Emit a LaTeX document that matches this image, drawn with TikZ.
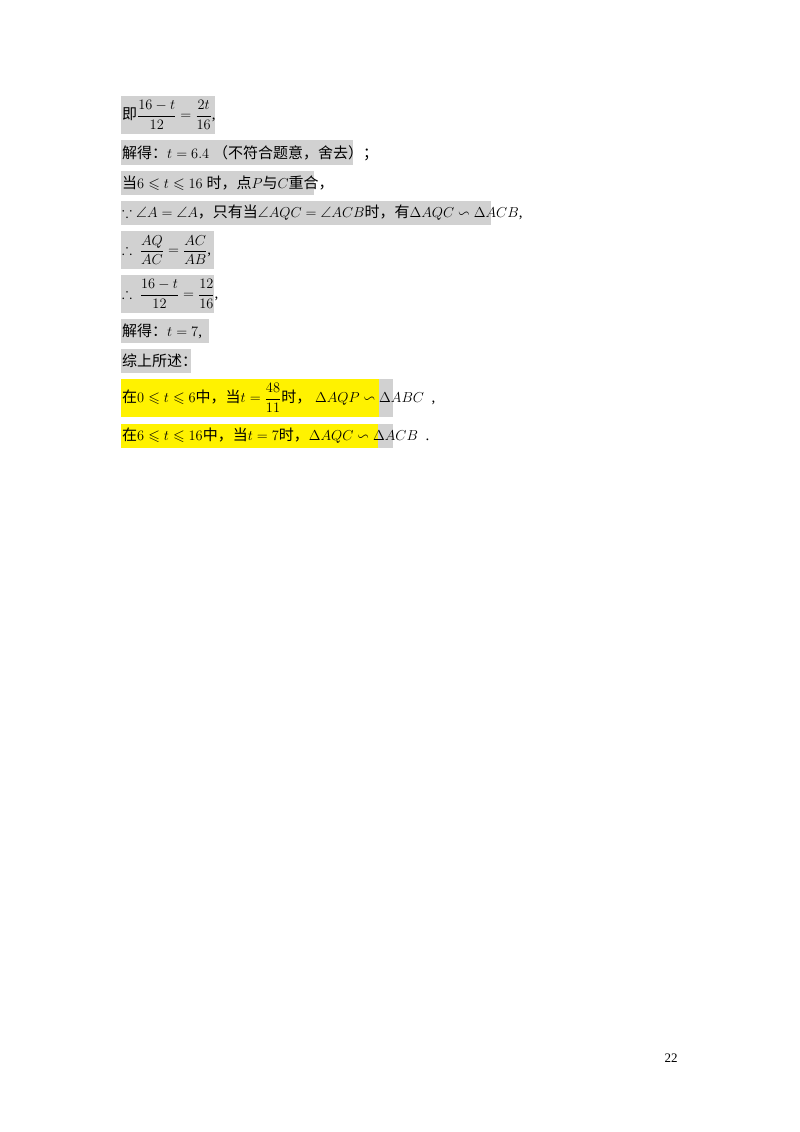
\documentclass[tikz,border=0pt]{standalone}
\usepackage{amsmath,amssymb}
\usepackage{fontspec}
\setmainfont{Liberation Serif}
\newfontfamily\cjk{Noto Sans CJK SC}
\begin{document}
\begin{tikzpicture}[x=1pt,y=-1pt,
  bg/.style={fill=black!18,draw=none},
  yl/.style={fill=yellow,draw=none},
  txt/.style={anchor=west,inner sep=0pt,font=\fontsize{15}{18}\selectfont}]
\useasboundingbox (0,0) rectangle (800,1132);
\fill[white] (0,0) rectangle (800,1132);
\path[bg] (121,96) rectangle (215,134);
\path[bg] (121,140) rectangle (353,165);
\path[bg] (121,171) rectangle (314,195);
\path[bg] (121,201) rectangle (491,225);
\path[bg] (121,231) rectangle (214,269);
\path[bg] (121,275) rectangle (214,313);
\path[bg] (121,319) rectangle (209,343);
\path[bg] (121,349) rectangle (191,373);
\path[bg] (121,379) rectangle (393,417);
\path[yl] (121,379) rectangle (379,417);
\path[bg] (121,424) rectangle (393,448);
\path[yl] (121,424) rectangle (378,448);
\node[txt] (r1) at (122,115) {{\cjk 即}$\dfrac{16-t}{12}=\dfrac{2t}{16}$,};
\node[txt] (r2) at (122,153) {{\cjk 解得：}$t=6.4$\ {\cjk（不符合题意，舍去）；}};
\node[txt] (r3) at (122,183) {{\cjk 当}$6\leqslant t\leqslant 16$ {\cjk 时，点}$P${\cjk 与}$C${\cjk 重合，}};
\node[txt] (r4) at (122,213) {$\because\angle A=\angle A${\cjk ，只有当}$\angle AQC=\angle ACB${\cjk 时，有}$\Delta AQC\backsim\Delta ACB$,};
\node[txt] (r5) at (122,250) {$\therefore\ \dfrac{AQ}{AC}=\dfrac{AC}{AB}$,};
\node[txt] (r6) at (122,294) {$\therefore\ \dfrac{16-t}{12}=\dfrac{12}{16}$,};
\node[txt] (r7) at (122,331) {{\cjk 解得：}$t=7$,};
\node[txt] (r8) at (122,361) {\cjk 综上所述：};
\node[txt] (r9) at (122,398) {{\cjk 在}$0\leqslant t\leqslant 6${\cjk 中，当}$t=\dfrac{48}{11}${\cjk 时，}\ $\Delta AQP\backsim\Delta ABC$\ \ ,};
\node[txt] (r10) at (122,436) {{\cjk 在}$6\leqslant t\leqslant 16${\cjk 中，当}$t=7${\cjk 时，}$\Delta AQC\backsim\Delta ACB$\ \ .};
\node[inner sep=0pt,font=\fontsize{13}{15}\selectfont] (pg) at (671,1058) {22};
\end{tikzpicture}
\end{document}
